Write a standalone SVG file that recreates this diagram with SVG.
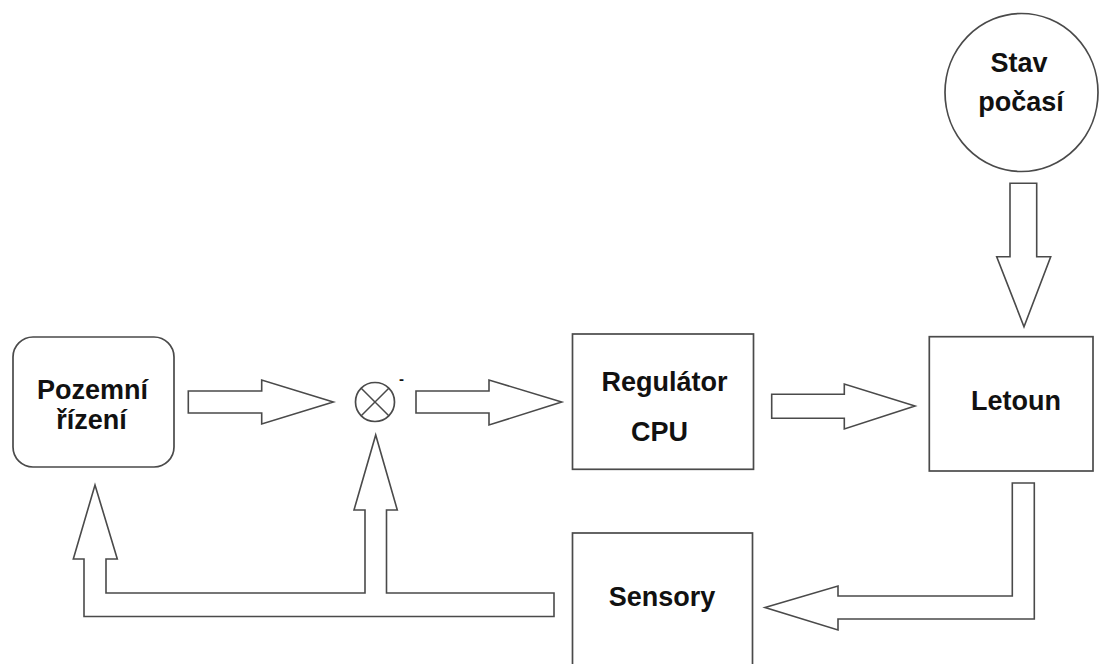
<svg xmlns="http://www.w3.org/2000/svg" width="1100" height="664" viewBox="0 0 1100 664">
<style>
.sh{fill:#fff;stroke:#4a4a4a;stroke-width:1.7}
.ar{fill:#fff;stroke:#4a4a4a;stroke-width:1.6;stroke-linejoin:miter}
.t{font-family:"Liberation Sans",Arial,sans-serif;font-weight:bold;font-size:27px;fill:#111;text-anchor:middle}
</style>
<rect width="1100" height="664" fill="#fff"/>
<g id="connectors">
<polygon class="ar" points="188.3,391 261.7,391 261.7,380 333.3,402 261.7,424 261.7,413 188.3,413"/>
<polygon class="ar" points="416,391 489,391 489,380 561.7,402 489,425 489,413 416,413"/>
<polygon class="ar" points="771.7,394.3 844.3,394.3 844.3,384 915,406 844.3,429 844.3,418.3 771.7,418.3"/>
<polygon class="ar" points="1010,183.3 1036.7,183.3 1036.7,256.7 1050.7,256.7 1024,326.7 996.7,256.7 1010,256.7"/>
<polygon class="ar" points="1012.3,483 1034.3,483 1034.3,619 838,619 838,630 765,607.5 838,586 838,596 1012.3,596"/>
<polygon class="ar" points="554,593 386.5,593 386.5,510 397.3,510 375.7,435 354,510 365,510 365,593 106,593 106,559 117.3,559 95,485 73.3,559 84,559 84,616.5 554,616.5"/>
</g>
<g id="pozemni">
<rect class="sh" x="13" y="337" width="161" height="130" rx="20"/>
<text class="t" x="92.5" y="399">Pozemní</text>
<text class="t" x="91.5" y="429">řízení</text>
</g>
<g id="sum">
<circle class="sh" cx="375" cy="402" r="19.5"/>
<line x1="361.2" y1="388.2" x2="388.8" y2="415.8" stroke="#4a4a4a" stroke-width="1.5"/>
<line x1="388.8" y1="388.2" x2="361.2" y2="415.8" stroke="#4a4a4a" stroke-width="1.5"/>
<text x="401.5" y="384" font-family="Liberation Sans, Arial, sans-serif" font-weight="bold" font-size="15" text-anchor="middle" fill="#111">-</text>
</g>
<g id="regulator">
<rect class="sh" x="572.5" y="334" width="181" height="135.3"/>
<text class="t" x="664.5" y="391">Regulátor</text>
<text class="t" x="659.5" y="441">CPU</text>
</g>
<g id="letoun">
<rect class="sh" x="929.3" y="336.7" width="163.7" height="134.3"/>
<text class="t" x="1016" y="410">Letoun</text>
</g>
<g id="stav">
<ellipse class="sh" cx="1021.5" cy="92.5" rx="76.5" ry="79"/>
<text class="t" x="1019" y="72">Stav</text>
<text class="t" x="1021" y="110.5">počasí</text>
</g>
<g id="sensory">
<rect class="sh" x="572.5" y="533" width="180" height="150"/>
<text class="t" x="662" y="606">Sensory</text>
</g>
</svg>
